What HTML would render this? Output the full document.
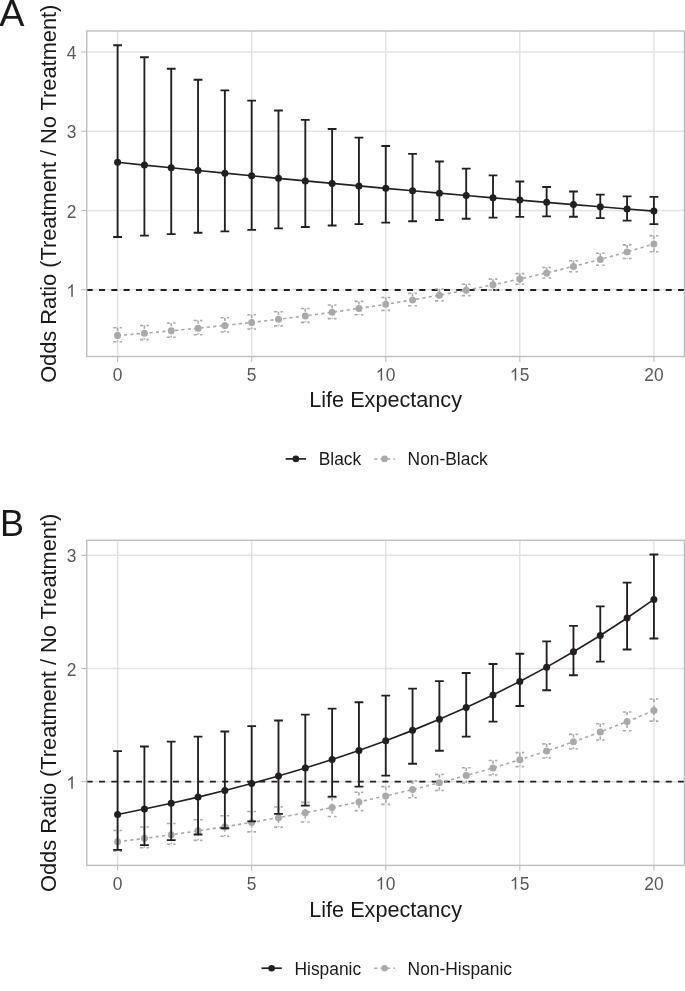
<!DOCTYPE html>
<html><head><meta charset="utf-8"><style>
html,body{margin:0;padding:0;background:#fff;}
body{width:685px;height:991px;overflow:hidden;}
svg{display:block;will-change:transform;font-family:"Liberation Sans",sans-serif;}
</style></head><body>
<svg width="685" height="991" viewBox="0 0 685 991">
<rect width="685" height="991" fill="#fff"/>
<g stroke="#e3e3e5" stroke-width="1.5"><line x1="117.60" y1="31.00" x2="117.60" y2="356.50"/><line x1="251.68" y1="31.00" x2="251.68" y2="356.50"/><line x1="385.75" y1="31.00" x2="385.75" y2="356.50"/><line x1="519.83" y1="31.00" x2="519.83" y2="356.50"/><line x1="653.90" y1="31.00" x2="653.90" y2="356.50"/><line x1="86.70" y1="289.79" x2="684.40" y2="289.79"/><line x1="86.70" y1="210.53" x2="684.40" y2="210.53"/><line x1="86.70" y1="131.27" x2="684.40" y2="131.27"/><line x1="86.70" y1="52.01" x2="684.40" y2="52.01"/></g>
<line x1="86.70" y1="290.00" x2="684.40" y2="290.00" stroke="#231f20" stroke-width="1.8" stroke-dasharray="6.0 6.32"/>
<g stroke="#a9a9a9" stroke-width="1.6" fill="none" stroke-dasharray="3.2 3.2"><path d="M113.20 327.76H122.00M117.60 327.76V341.82M113.20 341.82H122.00"/><path d="M140.01 325.45H148.81M144.41 325.45V339.64M140.01 339.64H148.81"/><path d="M166.83 323.01H175.63M171.23 323.01V337.28M166.83 337.28H175.63"/><path d="M193.65 320.43H202.45M198.05 320.43V334.73M193.65 334.73H202.45"/><path d="M220.46 317.69H229.26M224.86 317.69V331.98M220.46 331.98H229.26"/><path d="M247.28 314.80H256.07M251.68 314.80V329.02M247.28 329.02H256.07"/><path d="M274.09 311.75H282.89M278.49 311.75V325.83M274.09 325.83H282.89"/><path d="M300.91 308.51H309.70M305.31 308.51V322.38M300.91 322.38H309.70"/><path d="M327.72 305.07H336.52M332.12 305.07V318.67M327.72 318.67H336.52"/><path d="M354.54 301.42H363.33M358.94 301.42V314.68M354.54 314.68H363.33"/><path d="M381.35 297.55H390.15M385.75 297.55V310.40M381.35 310.40H390.15"/><path d="M408.17 293.42H416.97M412.57 293.42V305.80M408.17 305.80H416.97"/><path d="M434.98 289.01H443.78M439.38 289.01V300.87M434.98 300.87H443.78"/><path d="M461.80 284.27H470.60M466.20 284.27V295.62M461.80 295.62H470.60"/><path d="M488.61 279.16H497.41M493.01 279.16V290.06M488.61 290.06H497.41"/><path d="M515.43 273.59H524.23M519.83 273.59V284.19M515.43 284.19H524.23"/><path d="M542.24 267.49H551.04M546.64 267.49V278.07M542.24 278.07H551.04"/><path d="M569.06 260.74H577.86M573.46 260.74V271.74M569.06 271.74H577.86"/><path d="M595.87 253.24H604.67M600.27 253.24V265.23M595.87 265.23H604.67"/><path d="M622.69 244.92H631.49M627.09 244.92V258.56M622.69 258.56H631.49"/><path d="M649.50 235.74H658.30M653.90 235.74V251.69M649.50 251.69H658.30"/></g>
<path d="M117.60 335.52 L144.41 333.24 L171.23 330.80 L198.05 328.20 L224.86 325.42 L251.68 322.45 L278.49 319.28 L305.31 315.90 L332.12 312.28 L358.94 308.42 L385.75 304.29 L412.57 299.88 L439.38 295.18 L466.20 290.15 L493.01 284.78 L519.83 279.05 L546.64 272.93 L573.46 266.39 L600.27 259.40 L627.09 251.94 L653.90 243.97" stroke="#a9a9a9" stroke-width="1.6" fill="none" stroke-dasharray="3.2 3.2"/>
<g fill="#a9a9a9"><circle cx="117.60" cy="335.52" r="3.5"/><circle cx="144.41" cy="333.24" r="3.5"/><circle cx="171.23" cy="330.80" r="3.5"/><circle cx="198.05" cy="328.20" r="3.5"/><circle cx="224.86" cy="325.42" r="3.5"/><circle cx="251.68" cy="322.45" r="3.5"/><circle cx="278.49" cy="319.28" r="3.5"/><circle cx="305.31" cy="315.90" r="3.5"/><circle cx="332.12" cy="312.28" r="3.5"/><circle cx="358.94" cy="308.42" r="3.5"/><circle cx="385.75" cy="304.29" r="3.5"/><circle cx="412.57" cy="299.88" r="3.5"/><circle cx="439.38" cy="295.18" r="3.5"/><circle cx="466.20" cy="290.15" r="3.5"/><circle cx="493.01" cy="284.78" r="3.5"/><circle cx="519.83" cy="279.05" r="3.5"/><circle cx="546.64" cy="272.93" r="3.5"/><circle cx="573.46" cy="266.39" r="3.5"/><circle cx="600.27" cy="259.40" r="3.5"/><circle cx="627.09" cy="251.94" r="3.5"/><circle cx="653.90" cy="243.97" r="3.5"/></g>
<g stroke="#231f20" stroke-width="1.85" fill="none"><path d="M113.20 45.24H122.00M117.60 45.24V237.03M113.20 237.03H122.00"/><path d="M140.01 57.20H148.81M144.41 57.20V235.61M140.01 235.61H148.81"/><path d="M166.83 68.70H175.63M171.23 68.70V234.18M166.83 234.18H175.63"/><path d="M193.65 79.76H202.45M198.05 79.76V232.75M193.65 232.75H202.45"/><path d="M220.46 90.40H229.26M224.86 90.40V231.30M220.46 231.30H229.26"/><path d="M247.28 100.63H256.07M251.68 100.63V229.85M247.28 229.85H256.07"/><path d="M274.09 110.46H282.89M278.49 110.46V228.40M274.09 228.40H282.89"/><path d="M300.91 119.90H309.70M305.31 119.90V226.95M300.91 226.95H309.70"/><path d="M327.72 128.96H336.52M332.12 128.96V225.50M327.72 225.50H336.52"/><path d="M354.54 137.66H363.33M358.94 137.66V224.07M354.54 224.07H363.33"/><path d="M381.35 145.98H390.15M385.75 145.98V222.65M381.35 222.65H390.15"/><path d="M408.17 153.93H416.97M412.57 153.93V221.28M408.17 221.28H416.97"/><path d="M434.98 161.50H443.78M439.38 161.50V219.96M434.98 219.96H443.78"/><path d="M461.80 168.66H470.60M466.20 168.66V218.73M461.80 218.73H470.60"/><path d="M488.61 175.37H497.41M493.01 175.37V217.66M488.61 217.66H497.41"/><path d="M515.43 181.53H524.23M519.83 181.53V216.83M515.43 216.83H524.23"/><path d="M542.24 186.99H551.04M546.64 186.99V216.43M542.24 216.43H551.04"/><path d="M569.06 191.48H577.86M573.46 191.48V216.73M569.06 216.73H577.86"/><path d="M595.87 194.67H604.67M600.27 194.67V218.06M595.87 218.06H604.67"/><path d="M622.69 196.42H631.49M627.09 196.42V220.59M622.69 220.59H631.49"/><path d="M649.50 196.92H658.30M653.90 196.92V224.11M649.50 224.11H658.30"/></g>
<path d="M117.60 162.29 L144.41 165.06 L171.23 167.78 L198.05 170.48 L224.86 173.13 L251.68 175.75 L278.49 178.34 L305.31 180.89 L332.12 183.40 L358.94 185.89 L385.75 188.34 L412.57 190.75 L439.38 193.14 L466.20 195.49 L493.01 197.81 L519.83 200.10 L546.64 202.36 L573.46 204.59 L600.27 206.79 L627.09 208.96 L653.90 211.10" stroke="#231f20" stroke-width="1.65" fill="none"/>
<g fill="#231f20"><circle cx="117.60" cy="162.29" r="3.5"/><circle cx="144.41" cy="165.06" r="3.5"/><circle cx="171.23" cy="167.78" r="3.5"/><circle cx="198.05" cy="170.48" r="3.5"/><circle cx="224.86" cy="173.13" r="3.5"/><circle cx="251.68" cy="175.75" r="3.5"/><circle cx="278.49" cy="178.34" r="3.5"/><circle cx="305.31" cy="180.89" r="3.5"/><circle cx="332.12" cy="183.40" r="3.5"/><circle cx="358.94" cy="185.89" r="3.5"/><circle cx="385.75" cy="188.34" r="3.5"/><circle cx="412.57" cy="190.75" r="3.5"/><circle cx="439.38" cy="193.14" r="3.5"/><circle cx="466.20" cy="195.49" r="3.5"/><circle cx="493.01" cy="197.81" r="3.5"/><circle cx="519.83" cy="200.10" r="3.5"/><circle cx="546.64" cy="202.36" r="3.5"/><circle cx="573.46" cy="204.59" r="3.5"/><circle cx="600.27" cy="206.79" r="3.5"/><circle cx="627.09" cy="208.96" r="3.5"/><circle cx="653.90" cy="211.10" r="3.5"/></g>
<rect x="86.70" y="31.00" width="597.70" height="325.50" fill="none" stroke="#bdbec1" stroke-width="1.4"/>
<g stroke="#bdbec1" stroke-width="1.07"><line x1="81.2" y1="289.79" x2="86.70" y2="289.79"/><line x1="81.2" y1="210.53" x2="86.70" y2="210.53"/><line x1="81.2" y1="131.27" x2="86.70" y2="131.27"/><line x1="81.2" y1="52.01" x2="86.70" y2="52.01"/><line x1="117.60" y1="356.50" x2="117.60" y2="361.90"/><line x1="251.68" y1="356.50" x2="251.68" y2="361.90"/><line x1="385.75" y1="356.50" x2="385.75" y2="361.90"/><line x1="519.83" y1="356.50" x2="519.83" y2="361.90"/><line x1="653.90" y1="356.50" x2="653.90" y2="361.90"/></g>
<path transform="translate(66.33 296.79) scale(0.008496 -0.008496)" fill="#585858" d="M763 0H583V1147Q518 1085 412.5 1023T223 930V1104Q374 1175 487 1276T647 1472H763Z"/>
<text transform="translate(66.73 217.53) scale(1 1.042)" font-size="17.4" fill="#585858">2</text>
<text transform="translate(66.73 138.27) scale(1 1.042)" font-size="17.4" fill="#585858">3</text>
<text transform="translate(66.73 59.01) scale(1 1.042)" font-size="17.4" fill="#585858">4</text>
<text transform="translate(112.76 380.60) scale(1 1.042)" font-size="17.4" fill="#585858">0</text>
<text transform="translate(246.84 380.60) scale(1 1.042)" font-size="17.4" fill="#585858">5</text>
<path transform="translate(375.68 380.60) scale(0.008496 -0.008496)" fill="#585858" d="M763 0H583V1147Q518 1085 412.5 1023T223 930V1104Q374 1175 487 1276T647 1472H763Z"/>
<text transform="translate(385.75 380.60) scale(1 1.042)" font-size="17.4" fill="#585858">0</text>
<path transform="translate(509.75 380.60) scale(0.008496 -0.008496)" fill="#585858" d="M763 0H583V1147Q518 1085 412.5 1023T223 930V1104Q374 1175 487 1276T647 1472H763Z"/>
<text transform="translate(519.83 380.60) scale(1 1.042)" font-size="17.4" fill="#585858">5</text>
<text transform="translate(644.23 380.60) scale(1 1.042)" font-size="17.4" fill="#585858">2</text>
<text transform="translate(653.90 380.60) scale(1 1.042)" font-size="17.4" fill="#585858">0</text>
<text transform="translate(385.60 407.30) scale(1 1.042)" text-anchor="middle" font-size="21.65" fill="#1a1a1a">Life Expectancy</text>
<text transform="translate(55.70 193.75) rotate(-90) scale(1 1.042)" text-anchor="middle" font-size="21.8" fill="#1a1a1a">Odds Ratio (Treatment / No Treatment)</text>
<line x1="285.70" y1="458.90" x2="306.00" y2="458.90" stroke="#231f20" stroke-width="1.7"/>
<circle cx="295.85" cy="458.90" r="3.3" fill="#231f20"/>
<line x1="374.20" y1="458.90" x2="395.00" y2="458.90" stroke="#a9a9a9" stroke-width="1.5" stroke-dasharray="3.2 3.2"/>
<circle cx="384.60" cy="458.90" r="3.3" fill="#a9a9a9"/>
<text transform="translate(318.70 465.40) scale(1 1.042)" font-size="17.4" fill="#1a1a1a">Black</text>
<text transform="translate(407.60 465.40) scale(1 1.042)" font-size="17.4" fill="#1a1a1a">Non-Black</text>
<g stroke="#e3e3e5" stroke-width="1.5"><line x1="117.60" y1="540.30" x2="117.60" y2="865.40"/><line x1="251.68" y1="540.30" x2="251.68" y2="865.40"/><line x1="385.75" y1="540.30" x2="385.75" y2="865.40"/><line x1="519.83" y1="540.30" x2="519.83" y2="865.40"/><line x1="653.90" y1="540.30" x2="653.90" y2="865.40"/><line x1="86.70" y1="781.65" x2="684.40" y2="781.65"/><line x1="86.70" y1="668.50" x2="684.40" y2="668.50"/><line x1="86.70" y1="555.35" x2="684.40" y2="555.35"/></g>
<line x1="86.70" y1="781.65" x2="684.40" y2="781.65" stroke="#231f20" stroke-width="1.8" stroke-dasharray="6.0 6.32"/>
<g stroke="#a9a9a9" stroke-width="1.6" fill="none" stroke-dasharray="3.2 3.2"><path d="M113.20 830.44H122.00M117.60 830.44V851.09M113.20 851.09H122.00"/><path d="M140.01 827.04H148.81M144.41 827.04V847.78M140.01 847.78H148.81"/><path d="M166.83 823.45H175.63M171.23 823.45V844.21M166.83 844.21H175.63"/><path d="M193.65 819.68H202.45M198.05 819.68V840.38M193.65 840.38H202.45"/><path d="M220.46 815.69H229.26M224.86 815.69V836.27M220.46 836.27H229.26"/><path d="M247.28 811.49H256.07M251.68 811.49V831.84M247.28 831.84H256.07"/><path d="M274.09 807.06H282.89M278.49 807.06V827.09M274.09 827.09H282.89"/><path d="M300.91 802.38H309.70M305.31 802.38V821.99M300.91 821.99H309.70"/><path d="M327.72 797.43H336.52M332.12 797.43V816.52M327.72 816.52H336.52"/><path d="M354.54 792.19H363.33M358.94 792.19V810.66M354.54 810.66H363.33"/><path d="M381.35 786.64H390.15M385.75 786.64V804.39M381.35 804.39H390.15"/><path d="M408.17 780.75H416.97M412.57 780.75V797.69M408.17 797.69H416.97"/><path d="M434.98 774.46H443.78M439.38 774.46V790.54M434.98 790.54H443.78"/><path d="M461.80 767.73H470.60M466.20 767.73V782.97M461.80 782.97H470.60"/><path d="M488.61 760.47H497.41M493.01 760.47V774.97M488.61 774.97H497.41"/><path d="M515.43 752.58H524.23M519.83 752.58V766.60M515.43 766.60H524.23"/><path d="M542.24 743.92H551.04M546.64 743.92V757.93M542.24 757.93H551.04"/><path d="M569.06 734.33H577.86M573.46 734.33V749.03M569.06 749.03H577.86"/><path d="M595.87 723.70H604.67M600.27 723.70V739.95M595.87 739.95H604.67"/><path d="M622.69 711.94H631.49M627.09 711.94V730.68M622.69 730.68H631.49"/><path d="M649.50 699.02H658.30M653.90 699.02V721.17M649.50 721.17H658.30"/></g>
<path d="M117.60 841.76 L144.41 838.35 L171.23 834.72 L198.05 830.86 L224.86 826.75 L251.68 822.38 L278.49 817.72 L305.31 812.77 L332.12 807.50 L358.94 801.89 L385.75 795.91 L412.57 789.56 L439.38 782.79 L466.20 775.59 L493.01 767.93 L519.83 759.77 L546.64 751.10 L573.46 741.86 L600.27 732.03 L627.09 721.56 L653.90 710.43" stroke="#a9a9a9" stroke-width="1.6" fill="none" stroke-dasharray="3.2 3.2"/>
<g fill="#a9a9a9"><circle cx="117.60" cy="841.76" r="3.5"/><circle cx="144.41" cy="838.35" r="3.5"/><circle cx="171.23" cy="834.72" r="3.5"/><circle cx="198.05" cy="830.86" r="3.5"/><circle cx="224.86" cy="826.75" r="3.5"/><circle cx="251.68" cy="822.38" r="3.5"/><circle cx="278.49" cy="817.72" r="3.5"/><circle cx="305.31" cy="812.77" r="3.5"/><circle cx="332.12" cy="807.50" r="3.5"/><circle cx="358.94" cy="801.89" r="3.5"/><circle cx="385.75" cy="795.91" r="3.5"/><circle cx="412.57" cy="789.56" r="3.5"/><circle cx="439.38" cy="782.79" r="3.5"/><circle cx="466.20" cy="775.59" r="3.5"/><circle cx="493.01" cy="767.93" r="3.5"/><circle cx="519.83" cy="759.77" r="3.5"/><circle cx="546.64" cy="751.10" r="3.5"/><circle cx="573.46" cy="741.86" r="3.5"/><circle cx="600.27" cy="732.03" r="3.5"/><circle cx="627.09" cy="721.56" r="3.5"/><circle cx="653.90" cy="710.43" r="3.5"/></g>
<g stroke="#231f20" stroke-width="1.85" fill="none"><path d="M113.20 751.19H122.00M117.60 751.19V849.83M113.20 849.83H122.00"/><path d="M140.01 746.51H148.81M144.41 746.51V845.19M140.01 845.19H148.81"/><path d="M166.83 741.67H175.63M171.23 741.67V840.09M166.83 840.09H175.63"/><path d="M193.65 736.65H202.45M198.05 736.65V834.46M193.65 834.46H202.45"/><path d="M220.46 731.45H229.26M224.86 731.45V828.26M220.46 828.26H229.26"/><path d="M247.28 726.06H256.07M251.68 726.06V821.43M247.28 821.43H256.07"/><path d="M274.09 720.46H282.89M278.49 720.46V813.91M274.09 813.91H282.89"/><path d="M300.91 714.64H309.70M305.31 714.64V805.64M300.91 805.64H309.70"/><path d="M327.72 708.58H336.52M332.12 708.58V796.55M327.72 796.55H336.52"/><path d="M354.54 702.24H363.33M358.94 702.24V786.57M354.54 786.57H363.33"/><path d="M381.35 695.59H390.15M385.75 695.59V775.64M381.35 775.64H390.15"/><path d="M408.17 688.57H416.97M412.57 688.57V763.70M408.17 763.70H416.97"/><path d="M434.98 681.09H443.78M439.38 681.09V750.70M434.98 750.70H443.78"/><path d="M461.80 672.99H470.60M466.20 672.99V736.66M461.80 736.66H470.60"/><path d="M488.61 664.03H497.41M493.01 664.03V721.67M488.61 721.67H497.41"/><path d="M515.43 653.76H524.23M519.83 653.76V706.01M515.43 706.01H524.23"/><path d="M542.24 641.41H551.04M546.64 641.41V690.24M542.24 690.24H551.04"/><path d="M569.06 625.94H577.86M573.46 625.94V675.20M569.06 675.20H577.86"/><path d="M595.87 606.43H604.67M600.27 606.43V661.60M595.87 661.60H604.67"/><path d="M622.69 582.55H631.49M627.09 582.55V649.49M622.69 649.49H631.49"/><path d="M649.50 554.45H658.30M653.90 554.45V638.46M649.50 638.46H658.30"/></g>
<path d="M117.60 814.44 L144.41 809.03 L171.23 803.27 L198.05 797.11 L224.86 790.54 L251.68 783.53 L278.49 776.05 L305.31 768.06 L332.12 759.54 L358.94 750.44 L385.75 740.73 L412.57 730.37 L439.38 719.31 L466.20 707.51 L493.01 694.92 L519.83 681.48 L546.64 667.13 L573.46 651.82 L600.27 635.48 L627.09 618.04 L653.90 599.43" stroke="#231f20" stroke-width="1.65" fill="none"/>
<g fill="#231f20"><circle cx="117.60" cy="814.44" r="3.5"/><circle cx="144.41" cy="809.03" r="3.5"/><circle cx="171.23" cy="803.27" r="3.5"/><circle cx="198.05" cy="797.11" r="3.5"/><circle cx="224.86" cy="790.54" r="3.5"/><circle cx="251.68" cy="783.53" r="3.5"/><circle cx="278.49" cy="776.05" r="3.5"/><circle cx="305.31" cy="768.06" r="3.5"/><circle cx="332.12" cy="759.54" r="3.5"/><circle cx="358.94" cy="750.44" r="3.5"/><circle cx="385.75" cy="740.73" r="3.5"/><circle cx="412.57" cy="730.37" r="3.5"/><circle cx="439.38" cy="719.31" r="3.5"/><circle cx="466.20" cy="707.51" r="3.5"/><circle cx="493.01" cy="694.92" r="3.5"/><circle cx="519.83" cy="681.48" r="3.5"/><circle cx="546.64" cy="667.13" r="3.5"/><circle cx="573.46" cy="651.82" r="3.5"/><circle cx="600.27" cy="635.48" r="3.5"/><circle cx="627.09" cy="618.04" r="3.5"/><circle cx="653.90" cy="599.43" r="3.5"/></g>
<rect x="86.70" y="540.30" width="597.70" height="325.10" fill="none" stroke="#bdbec1" stroke-width="1.4"/>
<g stroke="#bdbec1" stroke-width="1.07"><line x1="81.2" y1="781.65" x2="86.70" y2="781.65"/><line x1="81.2" y1="668.50" x2="86.70" y2="668.50"/><line x1="81.2" y1="555.35" x2="86.70" y2="555.35"/><line x1="117.60" y1="865.40" x2="117.60" y2="870.80"/><line x1="251.68" y1="865.40" x2="251.68" y2="870.80"/><line x1="385.75" y1="865.40" x2="385.75" y2="870.80"/><line x1="519.83" y1="865.40" x2="519.83" y2="870.80"/><line x1="653.90" y1="865.40" x2="653.90" y2="870.80"/></g>
<path transform="translate(66.33 788.65) scale(0.008496 -0.008496)" fill="#585858" d="M763 0H583V1147Q518 1085 412.5 1023T223 930V1104Q374 1175 487 1276T647 1472H763Z"/>
<text transform="translate(66.73 675.50) scale(1 1.042)" font-size="17.4" fill="#585858">2</text>
<text transform="translate(66.73 562.35) scale(1 1.042)" font-size="17.4" fill="#585858">3</text>
<text transform="translate(112.76 889.50) scale(1 1.042)" font-size="17.4" fill="#585858">0</text>
<text transform="translate(246.84 889.50) scale(1 1.042)" font-size="17.4" fill="#585858">5</text>
<path transform="translate(375.68 889.50) scale(0.008496 -0.008496)" fill="#585858" d="M763 0H583V1147Q518 1085 412.5 1023T223 930V1104Q374 1175 487 1276T647 1472H763Z"/>
<text transform="translate(385.75 889.50) scale(1 1.042)" font-size="17.4" fill="#585858">0</text>
<path transform="translate(509.75 889.50) scale(0.008496 -0.008496)" fill="#585858" d="M763 0H583V1147Q518 1085 412.5 1023T223 930V1104Q374 1175 487 1276T647 1472H763Z"/>
<text transform="translate(519.83 889.50) scale(1 1.042)" font-size="17.4" fill="#585858">5</text>
<text transform="translate(644.23 889.50) scale(1 1.042)" font-size="17.4" fill="#585858">2</text>
<text transform="translate(653.90 889.50) scale(1 1.042)" font-size="17.4" fill="#585858">0</text>
<text transform="translate(385.60 916.60) scale(1 1.042)" text-anchor="middle" font-size="21.65" fill="#1a1a1a">Life Expectancy</text>
<text transform="translate(55.70 702.85) rotate(-90) scale(1 1.042)" text-anchor="middle" font-size="21.8" fill="#1a1a1a">Odds Ratio (Treatment / No Treatment)</text>
<line x1="261.50" y1="968.20" x2="281.80" y2="968.20" stroke="#231f20" stroke-width="1.7"/>
<circle cx="271.65" cy="968.20" r="3.3" fill="#231f20"/>
<line x1="374.20" y1="968.20" x2="395.00" y2="968.20" stroke="#a9a9a9" stroke-width="1.5" stroke-dasharray="3.2 3.2"/>
<circle cx="384.60" cy="968.20" r="3.3" fill="#a9a9a9"/>
<text transform="translate(294.50 974.70) scale(1 1.042)" font-size="17.4" fill="#1a1a1a">Hispanic</text>
<text transform="translate(407.60 974.70) scale(1 1.042)" font-size="17.4" fill="#1a1a1a">Non-Hispanic</text>
<text transform="translate(-0.70 25.60) scale(1.05 1.042)" font-size="36" fill="#1a1a1a">A</text>
<text transform="translate(0.00 535.60) scale(1 1.042)" font-size="36" fill="#1a1a1a">B</text>
</svg>
</body></html>
